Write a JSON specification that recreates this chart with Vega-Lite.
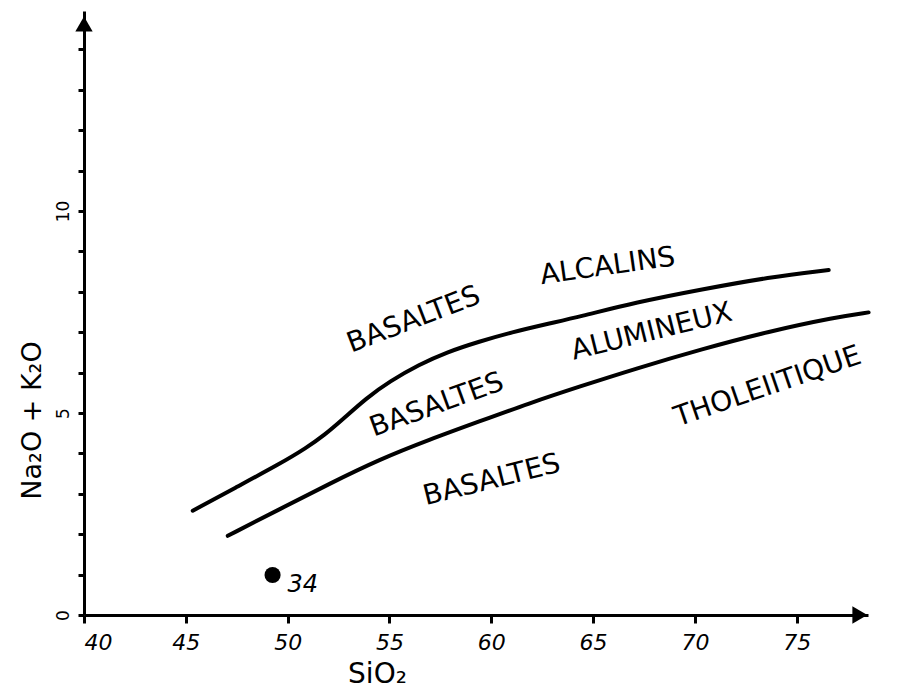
{
  "$schema": "https://vega.github.io/schema/vega-lite/v6.json",
  "width": 784,
  "height": 604,
  "autosize": {"type": "none"},
  "padding": {"left": 84, "top": 11, "right": 44, "bottom": 74},
  "background": "white",
  "config": {
    "view": {"stroke": null},
    "font": "DejaVu Sans",
    "axis": {"grid": false, "domainColor": "black", "tickColor": "black", "labelColor": "black", "titleColor": "black", "domainWidth": 3, "tickWidth": 3}
  },
  "encoding": {
    "x": {
      "field": "x", "type": "quantitative",
      "scale": {"domain": [40, 78.5], "nice": false, "zero": false},
      "axis": {
        "values": [40, 45, 50, 55, 60, 65, 70, 75],
        "tickSize": 8, "labelFontSize": 22, "labelFontStyle": "italic", "labelPadding": 9, "labelDx": 10,
        "title": "SiO₂", "titleFontSize": 28, "titleFontWeight": "normal", "titleX": 293, "titleY": 59,
        "titleAlign": "center", "titleBaseline": "middle"
      }
    },
    "y": {
      "field": "y", "type": "quantitative",
      "scale": {"domain": [0, 14.95], "nice": false, "zero": true},
      "axis": {
        "values": [0, 1, 2, 3, 4, 5, 6, 7, 8, 9, 10, 11, 12, 13, 14],
        "labelExpr": "datum.value % 5 === 0 ? datum.label : ''",
        "tickSize": 6, "labelFontSize": 17, "labelAngle": -90, "labelAlign": "center", "labelBaseline": "bottom", "labelPadding": 6,
        "title": "Na₂O + K₂O", "titleFontSize": 27, "titleFontWeight": "normal", "titleAngle": -90,
        "titleX": -52, "titleY": 409, "titleAlign": "center", "titleBaseline": "middle"
      }
    }
  },
  "layer": [
    {
      "data": {"values": [
        {"series": "alcalins", "x": 45.34, "y": 2.58},
        {"series": "alcalins", "x": 47.50, "y": 3.17},
        {"series": "alcalins", "x": 49.61, "y": 3.74},
        {"series": "alcalins", "x": 50.93, "y": 4.14},
        {"series": "alcalins", "x": 51.80, "y": 4.45},
        {"series": "alcalins", "x": 52.70, "y": 4.84},
        {"series": "alcalins", "x": 53.87, "y": 5.37},
        {"series": "alcalins", "x": 55.00, "y": 5.78},
        {"series": "alcalins", "x": 56.47, "y": 6.20},
        {"series": "alcalins", "x": 57.79, "y": 6.50},
        {"series": "alcalins", "x": 59.41, "y": 6.77},
        {"series": "alcalins", "x": 61.03, "y": 7.00},
        {"series": "alcalins", "x": 62.70, "y": 7.20},
        {"series": "alcalins", "x": 64.31, "y": 7.38},
        {"series": "alcalins", "x": 67.11, "y": 7.74},
        {"series": "alcalins", "x": 70.34, "y": 8.06},
        {"series": "alcalins", "x": 73.63, "y": 8.36},
        {"series": "alcalins", "x": 76.57, "y": 8.54},
        {"series": "tholeiitique", "x": 47.06, "y": 1.96},
        {"series": "tholeiitique", "x": 49.61, "y": 2.62},
        {"series": "tholeiitique", "x": 52.06, "y": 3.25},
        {"series": "tholeiitique", "x": 54.51, "y": 3.85},
        {"series": "tholeiitique", "x": 56.96, "y": 4.34},
        {"series": "tholeiitique", "x": 59.41, "y": 4.79},
        {"series": "tholeiitique", "x": 61.86, "y": 5.24},
        {"series": "tholeiitique", "x": 64.31, "y": 5.65},
        {"series": "tholeiitique", "x": 67.11, "y": 6.10},
        {"series": "tholeiitique", "x": 70.34, "y": 6.58},
        {"series": "tholeiitique", "x": 73.63, "y": 7.02},
        {"series": "tholeiitique", "x": 76.91, "y": 7.37},
        {"series": "tholeiitique", "x": 78.53, "y": 7.49}
      ]},
      "mark": {"type": "line", "color": "black", "strokeWidth": 4, "interpolate": "basis", "strokeCap": "round"},
      "encoding": {"detail": {"field": "series"}}
    },
    {
      "data": {"values": [{"x": 49.26, "y": 0.99, "label": "34"}]},
      "mark": {"type": "point", "filled": true, "color": "black", "size": 260, "opacity": 1}
    },
    {
      "data": {"values": [{"x": 49.26, "y": 0.99, "label": "34"}]},
      "mark": {"type": "text", "align": "left", "baseline": "middle", "dx": 15, "dy": 10, "fontSize": 24, "fontStyle": "italic", "color": "black"},
      "encoding": {"text": {"field": "label"}}
    },
    {
      "data": {"values": [{"x": 56.2, "y": 7.30, "label": "BASALTES"}]},
      "mark": {"type": "text", "angle": -21, "align": "center", "baseline": "middle", "fontSize": 28, "color": "black"},
      "encoding": {"text": {"field": "label"}}
    },
    {
      "data": {"values": [{"x": 65.72, "y": 8.62, "label": "ALCALINS"}]},
      "mark": {"type": "text", "angle": -8, "align": "center", "baseline": "middle", "fontSize": 28, "color": "black"},
      "encoding": {"text": {"field": "label"}}
    },
    {
      "data": {"values": [{"x": 57.33, "y": 5.19, "label": "BASALTES"}]},
      "mark": {"type": "text", "angle": -20, "align": "center", "baseline": "middle", "fontSize": 28, "color": "black"},
      "encoding": {"text": {"field": "label"}}
    },
    {
      "data": {"values": [{"x": 67.88, "y": 7.0, "label": "ALUMINEUX"}]},
      "mark": {"type": "text", "angle": -14, "align": "center", "baseline": "middle", "fontSize": 28, "color": "black"},
      "encoding": {"text": {"field": "label"}}
    },
    {
      "data": {"values": [{"x": 60.03, "y": 3.33, "label": "BASALTES"}]},
      "mark": {"type": "text", "angle": -14, "align": "center", "baseline": "middle", "fontSize": 28, "color": "black"},
      "encoding": {"text": {"field": "label"}}
    },
    {
      "data": {"values": [{"x": 73.58, "y": 5.64, "label": "THOLEIITIQUE"}]},
      "mark": {"type": "text", "angle": -19, "align": "center", "baseline": "middle", "fontSize": 28, "color": "black"},
      "encoding": {"text": {"field": "label"}}
    },
    {
      "data": {"values": [{"x": 40, "y": 14.63}]},
      "mark": {"type": "point", "shape": "triangle-up", "filled": true, "color": "black", "size": 300, "opacity": 1}
    },
    {
      "data": {"values": [{"x": 78.1, "y": 0}]},
      "mark": {"type": "point", "shape": "triangle-right", "filled": true, "color": "black", "size": 300, "opacity": 1}
    }
  ]
}
